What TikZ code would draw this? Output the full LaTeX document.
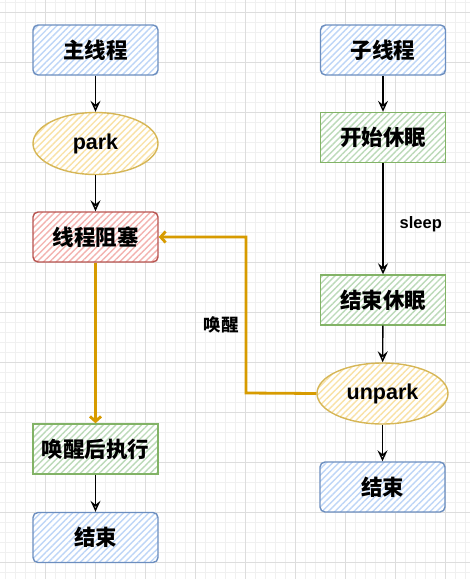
\documentclass[tikz,border=0pt]{standalone}
\usepackage{fontspec}
\setmainfont{Liberation Sans}
\newfontfamily\cjk{Noto Sans CJK SC}
\usetikzlibrary{arrows.meta,patterns.meta,shapes.geometric}
\definecolor{bfill}{HTML}{BED6F7}
\definecolor{bline}{HTML}{6C8EBF}
\definecolor{yfill}{HTML}{F9E2A6}
\definecolor{yline}{HTML}{D6B656}
\definecolor{rfill}{HTML}{F3B3B0}
\definecolor{rline}{HTML}{B85450}
\definecolor{gfill}{HTML}{BCDAB9}
\definecolor{gline}{HTML}{82B366}
\definecolor{oline}{HTML}{D79B00}
\definecolor{gmin}{HTML}{F0F0F0}
\definecolor{gmaj}{HTML}{DDDDDD}
\tikzset{
  base/.style={draw, line width=1.4pt, minimum width=125pt, minimum height=50pt, inner sep=0pt,
    preaction={fill=white}, font=\cjk\bfseries\fontsize{21.5}{21.5}\selectfont},
  hatch/.style={pattern={Lines[angle=45,distance=4.5pt,line width=1.4pt]}, pattern color=#1},
  bluebox/.style={base, rounded corners=5pt, bline, text=black, hatch=bfill},
  redbox/.style={base, rounded corners=5pt, rline, text=black, hatch=rfill},
  greenbox/.style={base, gline, text=black, hatch=gfill},
  oval/.style={base, ellipse, yline, text=black, font=\bfseries\fontsize{21.5}{21.5}\selectfont, hatch=yfill},
  conn/.style={line width=1.4pt, black, -{Stealth[open, length=11pt, width=10pt, inset=4pt]}},
  oconn/.style={line width=2.8pt, oline, -{Straight Barb[length=5pt, width=11pt]}},
  lbl/.style={font=\bfseries\fontsize{16.5}{16.5}\selectfont, inner sep=0pt},
  clbl/.style={font=\cjk\bfseries\fontsize{17.5}{17.5}\selectfont, inner sep=0pt}
}
\begin{document}
\begin{tikzpicture}[x=1pt, y=-1pt]
\useasboundingbox (0,0) rectangle (470,579);
\fill[white] (0,0) rectangle (470,579);
\foreach \x in {5,15,...,465} \draw[gmin, line width=1pt] (\x,0) -- (\x,579);
\foreach \y in {2,12,...,572} \draw[gmin, line width=1pt] (0,\y) -- (470,\y);
\foreach \x in {45,95,...,445} \draw[gmaj, line width=1pt] (\x,0) -- (\x,579);
\foreach \y in {12,62,...,562} \draw[gmaj, line width=1pt] (0,\y) -- (470,\y);

\node[bluebox] (main) at (95.5,50) {主线程};
\node[oval, minimum width=125pt, minimum height=62pt] (park) at (95.5,143.5) {park};
\node[redbox] (block) at (95.5,237) {线程阻塞};
\node[greenbox] (after) at (95.5,449) {唤醒后执行};
\node[bluebox] (endL) at (95.5,537.5) {结束};

\node[bluebox] (child) at (383,50) {子线程};
\node[greenbox] (startS) at (383,137.5) {开始休眠};
\node[greenbox] (endS) at (383,300) {结束休眠};
\node[oval, minimum width=131pt, minimum height=61pt] (unpark) at (382.5,393.5) {unpark};
\node[bluebox] (endR) at (382.5,487) {结束};

\draw[conn] (main) -- (park);
\draw[conn] (park) -- (block);
\draw[oconn] (block) -- (after);
\draw[conn] (after) -- (endL);

\draw[conn] (child) -- (startS);
\draw[conn] (startS) -- node[lbl, right=16pt, pos=0.55] (sl) {sleep} (endS);
\draw[conn] (endS) -- (unpark);
\draw[conn] (unpark) -- (endR);

\coordinate (k) at (246,393);
\draw[oconn] (unpark.west) -- (k) |- (block.east);
\node[clbl] (wake) at (221,325) {唤醒};
\end{tikzpicture}
\end{document}
